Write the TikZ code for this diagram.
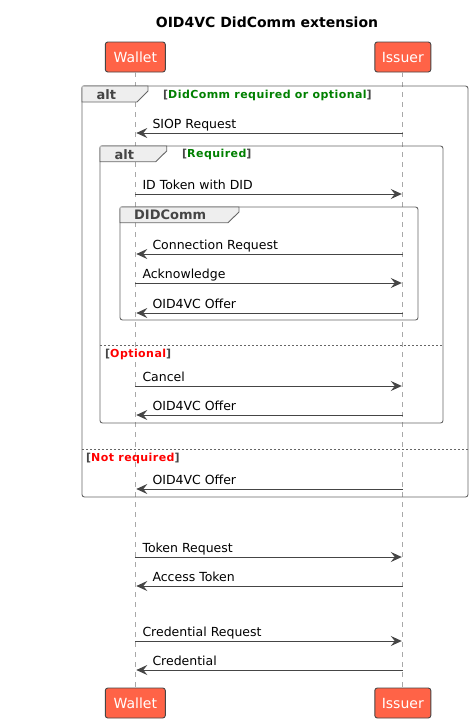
\documentclass[tikz,border=0pt]{standalone}
\usepackage{fontspec}
\setmainfont{DejaVu Sans}
\usetikzlibrary{arrows.meta,positioning}

\definecolor{actorfill}{HTML}{FF6347}
\definecolor{linegray}{HTML}{454545}
\definecolor{framegray}{HTML}{666666}
\definecolor{tabfill}{HTML}{EEEEEE}
\definecolor{lifegray}{HTML}{A8A8A8}
\definecolor{condgreen}{HTML}{008000}
\definecolor{condred}{HTML}{FF0000}

\newcommand{\condfont}{\bfseries\fontsize{11}{13}\selectfont\addfontfeature{LetterSpace=4}}

\tikzset{
	actor/.style={draw=linegray, fill=actorfill, rounded corners=2.5pt, line width=0.9pt,
		text=white, font=\fontsize{14}{16}\selectfont, minimum height=30pt, inner sep=0pt},
	lifeline/.style={draw=lifegray, line width=0.8pt, dash pattern=on 5pt off 5pt},
	msg/.style={draw=linegray, line width=0.9pt, -{Stealth[length=11pt,width=10pt,inset=4pt]}},
	msglabel/.style={font=\fontsize{12.5}{14}\selectfont, inner sep=0pt, anchor=base west},
	framebox/.style={draw=framegray, line width=0.9pt, rounded corners=2.5pt},
	tabbox/.style={draw=framegray, fill=tabfill, line width=0.9pt},
	tablabel/.style={font=\bfseries\fontsize{13}{15}\selectfont, text=linegray, inner sep=0pt, anchor=base west},
	cond/.style={font=\condfont, text=linegray, inner sep=0pt, anchor=base west},
	separator/.style={draw=framegray, line width=0.7pt, dash pattern=on 2pt off 2pt}
}

\begin{document}
\begin{tikzpicture}[x=1pt, y=-1pt]
\useasboundingbox (0,0) rectangle (474,723);

% title
\node[font=\bfseries\fontsize{14}{16}\selectfont, inner sep=0pt] (title) at (267,22) {OID4VC DidComm extension};

% participants
\node[actor, minimum width=60pt] (wallet) at (135.3,57) {Wallet};
\node[actor, minimum width=56pt] (issuer) at (402.8,57) {Issuer};
\node[actor, minimum width=60pt] (walletB) at (135.3,703) {Wallet};
\node[actor, minimum width=56pt] (issuerB) at (402.8,703) {Issuer};

\draw[lifeline] (wallet) -- (walletB);
\draw[lifeline] (issuer) -- (issuerB);

% outer alt
\draw[framebox] (82,86) rectangle (468,497);
\draw[tabbox] (82.5,86) -- (148,86) -- (148,91) -- (137,102) -- (82,102) -- (82,86.5);
\node[tablabel] (altA) at (96.5,99) {alt};
\node[cond] (condA) at (163,98) {[\textcolor{condgreen}{DidComm required or optional}]};
\draw[separator] (82,449) -- (468,449);
\node[cond] (condB) at (86,461) {[\textcolor{condred}{Not required}]};

% inner alt
\draw[framebox] (100,146) rectangle (443,423);
\draw[tabbox] (100.5,146) -- (166.7,146) -- (166.7,151) -- (155.7,161.7) -- (100,161.7) -- (100,146.5);
\node[tablabel] (altB) at (114.5,159) {alt};
\node[cond] (condC) at (182,157.5) {[\textcolor{condgreen}{Required}]};
\draw[separator] (100,345) -- (443,345);
\node[cond] (condD) at (105,357.5) {[\textcolor{condred}{Optional}]};

% DIDComm group
\draw[framebox] (120,207) rectangle (418,320);
\draw[tabbox] (120.5,207) -- (239,207) -- (239,212) -- (228,222.7) -- (120,222.7) -- (120,207.5);
\node[tablabel] (grp) at (134,219.5) {DIDComm};

% messages wallet -> issuer
\foreach \y/\txt [count=\n] in {194/ID Token with DID, 283/Acknowledge, 386/Cancel,
		557/Token Request, 641/Credential Request}{
	\coordinate (wr\n) at (wallet |- 0,\y);
	\coordinate (ir\n) at (issuer |- 0,\y);
	\draw[msg, shorten >=1pt] (wr\n) -- (ir\n);
	\node[msglabel] (rl\n) at ([xshift=7pt, yshift=4.5pt]wr\n) {\txt};
}

% messages issuer -> wallet
\foreach \y/\txt [count=\n] in {133/SIOP Request, 254/Connection Request, 313/OID4VC Offer,
		415/OID4VC Offer, 489/OID4VC Offer, 586/Access Token, 670/Credential}{
	\coordinate (wl\n) at (wallet |- 0,\y);
	\coordinate (il\n) at (issuer |- 0,\y);
	\draw[msg, shorten >=1pt] (il\n) -- (wl\n);
	\node[msglabel] (ll\n) at ([xshift=17pt, yshift=4.5pt]wl\n) {\txt};
}
\end{tikzpicture}
\end{document}
